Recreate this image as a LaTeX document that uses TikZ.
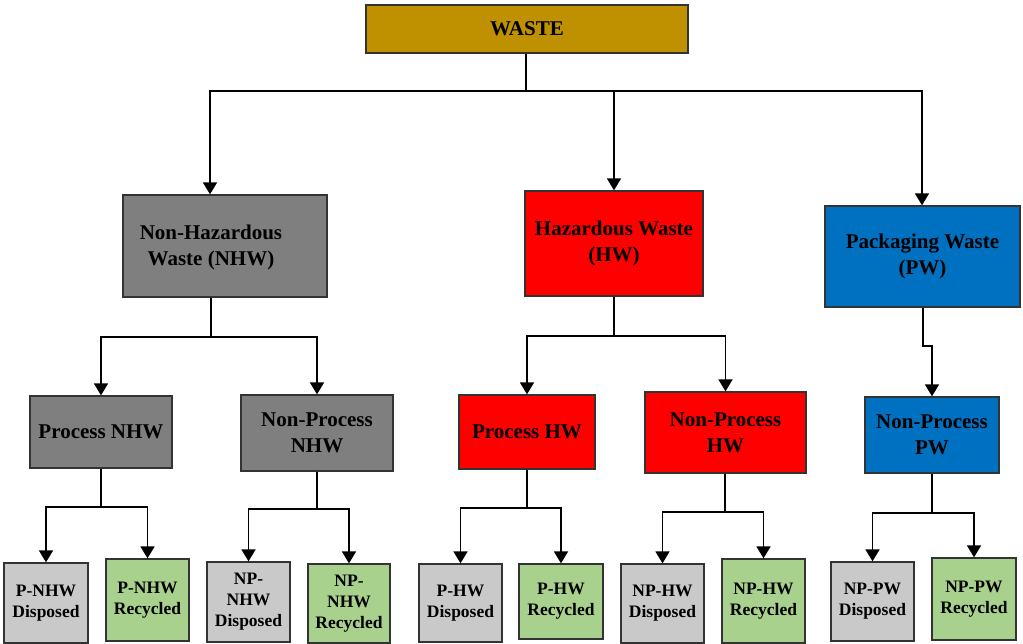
\documentclass[tikz,border=0pt]{standalone}
\usepackage{fontspec}
\setmainfont{Liberation Serif}
\usetikzlibrary{arrows.meta}

\definecolor{wastegold}{HTML}{BF9000}
\definecolor{nhwgray}{HTML}{7F7F7F}
\definecolor{hwred}{HTML}{FF0000}
\definecolor{pwblue}{HTML}{0070C0}
\definecolor{disgray}{HTML}{C9C9C9}
\definecolor{recgreen}{HTML}{A9D18E}
\definecolor{edge}{HTML}{333333}

\tikzset{
  box/.style={draw=edge, line width=1.3pt, inner sep=0pt, align=center,
              font=\bfseries\fontsize{21}{26}\selectfont},
  leaf/.style={box, font=\bfseries\fontsize{17.5}{21}\selectfont},
  disp/.style={leaf, fill=disgray},
  recy/.style={leaf, fill=recgreen},
  wire/.style={line width=1.8pt, line join=miter},
  arr/.style={wire, -{Triangle[width=14pt,length=12pt]}},
  sz/.style 2 args={minimum width=#1pt, minimum height=#2pt}
}

\begin{document}
\begin{tikzpicture}[x=1pt, y=-1pt]
\useasboundingbox (0,0) rectangle (1023,644);

% root
\node[box, fill=wastegold, sz={322}{48}] (waste) at (527,29) {WASTE};

% first level (the NHW caption sits left of its box centre)
\node[box, fill=nhwgray, sz={204}{102}] (nhw) at (225,246) {};
\node[align=center, inner sep=0pt, font=\bfseries\fontsize{21}{26}\selectfont]
  (nhwtext) at (211,247) {Non-Hazardous\\Waste (NHW)};
\node[box, fill=hwred,   sz={178}{105}] (hw)  at (614,243.5) {Hazardous Waste\\(HW)};
\node[box, fill=pwblue,  sz={195}{101}] (pw)  at (922.5,256.5) {Packaging Waste\\(PW)};

% second level
\node[box, fill=nhwgray, sz={142}{72}] (pnhw)  at (101,432)   {Process NHW};
\node[box, fill=nhwgray, sz={152}{76}] (npnhw) at (317,433)   {Non-Process\\NHW};
\node[box, fill=hwred,   sz={136}{74}] (phw)   at (527,432)   {Process HW};
\node[box, fill=hwred,   sz={161}{81}] (nphw)  at (725.5,432.5) {Non-Process\\HW};
\node[box, fill=pwblue,  sz={134}{76}] (nppw)  at (932,435)   {Non-Process\\PW};

% leaves
\node[disp, sz={84}{80}] (pnhwd)  at (46,603)    {P-NHW\\Disposed};
\node[recy, sz={83}{82}] (pnhwr)  at (147.5,600) {P-NHW\\Recycled};
\node[disp, sz={83}{80}] (npnhwd) at (248.5,602) {NP-\\NHW\\Disposed};
\node[recy, sz={82}{79}] (npnhwr) at (349,603.5) {NP-\\NHW\\Recycled};
\node[disp, sz={83}{78}] (phwd)   at (460.5,603) {P-HW\\Disposed};
\node[recy, sz={84}{75}] (phwr)   at (561,601.5) {P-HW\\Recycled};
\node[disp, sz={83}{79}] (nphwd)  at (662.5,603.5) {NP-HW\\Disposed};
\node[recy, sz={83}{84}] (nphwr)  at (763.5,601) {NP-HW\\Recycled};
\node[disp, sz={83}{79}] (nppwd)  at (872.5,601.5) {NP-PW\\Disposed};
\node[recy, sz={84}{82}] (nppwr)  at (974,599)   {NP-PW\\Recycled};

% root to first level
\coordinate (j0) at (526,91);
\draw[wire] (waste.south -| j0) -- (j0);
\draw[arr] (j0) -| ([xshift=-15pt]nhw.north);
\draw[arr] (j0) -| (hw.north);
\draw[arr] (j0) -| ([xshift=-0.5pt]pw.north);

% first to second level
\draw[arr] ([xshift=-14pt]nhw.south) -- ++(0,39) -| (pnhw.north);
\draw[arr] ([xshift=-14pt]nhw.south) -- ++(0,39) -| (npnhw.north);
\draw[arr] (hw.south) -- ++(0,39) -| (phw.north);
\draw[arr] (hw.south) -- ++(0,39) -| (nphw.north);
\draw[arr] ([xshift=0.5pt]pw.south) -- ++(0,38) -| (nppw.north);

% second level to leaves
\draw[arr] (pnhw.south) -- ++(0,38) -| (pnhwd.north);
\draw[arr] (pnhw.south) -- ++(0,38) -| (pnhwr.north);
\draw[arr] (npnhw.south) -- ++(0,37) -| (npnhwd.north);
\draw[arr] (npnhw.south) -- ++(0,37) -| (npnhwr.north);
\draw[arr] (phw.south) -- ++(0,38) -| (phwd.north);
\draw[arr] (phw.south) -- ++(0,38) -| (phwr.north);
\draw[arr] ([xshift=-0.5pt]nphw.south) -- ++(0,38) -| (nphwd.north);
\draw[arr] ([xshift=-0.5pt]nphw.south) -- ++(0,38) -| (nphwr.north);
\draw[arr] (nppw.south) -- ++(0,39) -| (nppwd.north);
\draw[arr] (nppw.south) -- ++(0,39) -| (nppwr.north);
\end{tikzpicture}
\end{document}
